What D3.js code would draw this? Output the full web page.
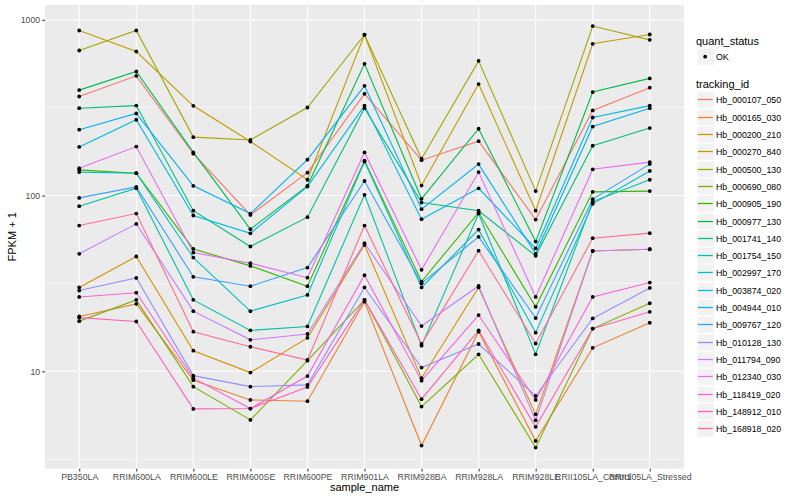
<!DOCTYPE html>
<html>
<head>
<meta charset="utf-8">
<script src="https://d3js.org/d3.v7.min.js"></script>
<style>
  body { margin: 0; background: #fff; }
  text { font-family: "Liberation Sans", Arial, sans-serif; }
</style>
</head>
<body>
<div id="chart"></div>
<script>
// sample names on the x axis
var samples = ["PB350LA", "RRIM600LA", "RRIM600LE", "RRIM600SE", "RRIM600PE", "RRIM901LA",
               "RRIM928BA", "RRIM928LA", "RRIM928LE", "RRII105LA_Control", "RRII105LA_Stressed"];

var trackingIds = ["Hb_000107_050", "Hb_000165_030", "Hb_000200_210", "Hb_000270_840", "Hb_000500_130",
                   "Hb_000690_080", "Hb_000905_190", "Hb_000977_130", "Hb_001741_140", "Hb_001754_150",
                   "Hb_002997_170", "Hb_003874_020", "Hb_004944_010", "Hb_009767_120", "Hb_010128_130",
                   "Hb_011794_090", "Hb_012340_030", "Hb_118419_020", "Hb_148912_010", "Hb_168918_020"];

// FPKM + 1, one value per sample
var hb_000107_050 = [366, 480, 173, 77.6, 135, 379, 159, 204, 73, 305, 411];
var hb_000165_030 = [20.5, 24.2, 8.9, 6.87, 6.76, 24.9, 3.78, 16.8, 4.02, 13.6, 18.9];
var hb_000200_210 = [30, 45, 13.1, 9.84, 15.5, 52.4, 9.14, 30, 5.69, 48.4, 49.5];
var hb_000270_840 = [869, 660, 324, 203, 123, 822, 114, 431, 82, 730, 825];
var hb_000500_130 = [669, 869, 215, 207, 317, 822, 162, 584, 106, 921, 769];
var hb_000690_080 = [19.3, 25.5, 8.18, 5.29, 11.5, 25.5, 6.3, 12.5, 3.68, 17.5, 24.4];
var hb_000905_190 = [140, 134, 49.7, 39.8, 30.5, 158, 32.4, 80, 23.3, 105, 106];
var hb_000977_130 = [398, 508, 176, 64.4, 113.6, 562, 95.8, 240, 54.7, 388, 464];
var hb_001741_140 = [314, 325, 82, 51.3, 75.3, 314, 91.2, 82, 45.4, 192, 242];
var hb_001754_150 = [87, 110, 25.5, 17.1, 18, 101, 14, 79, 12.5, 92.4, 123];
var hb_002997_170 = [136, 134, 44.4, 22, 27.2, 156, 30, 64, 16.6, 89.7, 138];
var hb_003874_020 = [189, 270, 77, 61, 112.5, 325, 73.4, 110, 50, 278, 325];
var hb_004944_010 = [237, 293, 113.6, 79, 160, 421, 83.7, 151, 46.6, 247, 314];
var hb_009767_120 = [97, 112, 34.5, 30.5, 38.9, 121, 31.7, 58.2, 20.1, 95.4, 151];
var hb_010128_130 = [28.8, 34, 9.45, 8.18, 8.37, 30, 10.5, 14.3, 7.24, 20, 29.8];
var hb_011794_090 = [46.6, 69, 22, 15.1, 16.3, 53.6, 18.1, 30.6, 5.26, 48.4, 49.5];
var hb_012340_030 = [143, 190, 47.4, 41.2, 34.1, 176, 37.8, 136, 26.5, 141, 155];
var hb_118419_020 = [26.5, 28, 9.14, 6.14, 9.4, 35.2, 8.85, 20.9, 6.87, 26.5, 32];
var hb_148912_010 = [20.2, 19.2, 6.11, 6.14, 8.15, 25.5, 6.94, 17.1, 4.83, 17.5, 21.8];
var hb_168918_020 = [67.5, 79, 16.8, 13.8, 11.6, 67.5, 14.3, 48.6, 14.4, 57.2, 61.1];

var seriesValues = [hb_000107_050, hb_000165_030, hb_000200_210, hb_000270_840, hb_000500_130,
                    hb_000690_080, hb_000905_190, hb_000977_130, hb_001741_140, hb_001754_150,
                    hb_002997_170, hb_003874_020, hb_004944_010, hb_009767_120, hb_010128_130,
                    hb_011794_090, hb_012340_030, hb_118419_020, hb_148912_010, hb_168918_020];

var yTicks = [10, 100, 1000];
var yMinor = [Math.pow(10, 0.5), Math.pow(10, 1.5), Math.pow(10, 2.5)];
var statusLabels = ["OK"];

// ggplot default hue palette for 20 levels
var palette = ["#F8766D", "#EA8331", "#D89000", "#C09B00", "#A3A500", "#7CAE00", "#39B600",
               "#00BB4E", "#00BF7D", "#00C1A3", "#00BFC4", "#00BAE0", "#00B0F6", "#35A2FF",
               "#9590FF", "#C77CFF", "#E76BF3", "#FA62DB", "#FF62BC", "#FF6C91"];

var width = 800,
    height = 500,
    panel = { left: 45, top: 5, right: 684, bottom: 468.7 };

var series = trackingIds.map(function(id, i) {
    return {
        id: id,
        points: samples.map(function(s, j) { return { sample: s, value: seriesValues[i][j] }; })
    };
});

var allValues = d3.merge(seriesValues);
var logMin = Math.log10(d3.min(allValues)),
    logMax = Math.log10(d3.max(allValues)),
    pad = (logMax - logMin) * 0.05;

var x = d3.scalePoint().domain(samples).range([panel.left, panel.right]).padding(0.6);
var y = d3.scaleLog()
    .domain([Math.pow(10, logMin - pad), Math.pow(10, logMax + pad)])
    .range([panel.bottom, panel.top]);
var color = d3.scaleOrdinal().domain(trackingIds).range(palette);

var svg = d3.select("#chart").append("svg")
    .attr("width", width).attr("height", height);

svg.append("rect")
    .attr("x", panel.left).attr("y", panel.top)
    .attr("width", panel.right - panel.left).attr("height", panel.bottom - panel.top)
    .attr("fill", "#EBEBEB");

var grid = svg.append("g");
grid.selectAll("line.minor").data(yMinor).enter().append("line")
    .attr("x1", panel.left).attr("x2", panel.right)
    .attr("y1", function(d) { return y(d); }).attr("y2", function(d) { return y(d); })
    .attr("stroke", "#fff").attr("stroke-width", 0.55);
grid.selectAll("line.major").data(yTicks).enter().append("line")
    .attr("x1", panel.left).attr("x2", panel.right)
    .attr("y1", function(d) { return y(d); }).attr("y2", function(d) { return y(d); })
    .attr("stroke", "#fff").attr("stroke-width", 1.1);
grid.selectAll("line.vert").data(samples).enter().append("line")
    .attr("x1", function(d) { return x(d); }).attr("x2", function(d) { return x(d); })
    .attr("y1", panel.top).attr("y2", panel.bottom)
    .attr("stroke", "#fff").attr("stroke-width", 1.1);

var line = d3.line()
    .x(function(d) { return x(d.sample); })
    .y(function(d) { return y(d.value); });

svg.append("g").selectAll("path").data(series).enter().append("path")
    .attr("d", function(d) { return line(d.points); })
    .attr("fill", "none")
    .attr("stroke", function(d) { return color(d.id); })
    .attr("stroke-width", 1.1);

svg.append("g").selectAll("g").data(series).enter().append("g")
    .selectAll("circle").data(function(d) { return d.points; }).enter().append("circle")
    .attr("cx", function(d) { return x(d.sample); })
    .attr("cy", function(d) { return y(d.value); })
    .attr("r", 1.9)
    .attr("fill", "#000");

// axes
var xAxis = svg.append("g")
    .attr("transform", "translate(0," + panel.bottom + ")")
    .call(d3.axisBottom(x).tickSizeOuter(0).tickSize(2.8).tickPadding(2));
var yAxis = svg.append("g")
    .attr("transform", "translate(" + panel.left + ",0)")
    .call(d3.axisLeft(y).tickValues(yTicks).tickFormat(d3.format("d")).tickSizeOuter(0).tickSize(2.8).tickPadding(2));

[xAxis, yAxis].forEach(function(a) {
    a.select(".domain").remove();
    a.selectAll(".tick line").attr("stroke", "#333333").attr("stroke-width", 1.05);
    a.selectAll(".tick text").attr("fill", "#4D4D4D")
        .style("font-family", "'Liberation Sans', Arial, sans-serif").style("font-size", "8.8px");
});

svg.append("text")
    .attr("x", (panel.left + panel.right) / 2).attr("y", 491)
    .attr("text-anchor", "middle").attr("font-size", "11px").attr("fill", "#000")
    .text("sample_name");

svg.append("text")
    .attr("transform", "translate(16," + (panel.top + panel.bottom) / 2 + ") rotate(-90)")
    .attr("text-anchor", "middle").attr("font-size", "11px").attr("fill", "#000")
    .text("FPKM + 1");

// legends
var keyX = 697, keySize = 17.3, labelX = 716;
var legend = svg.append("g");

legend.append("text").attr("x", 696).attr("y", 44.5)
    .attr("font-size", "11px").attr("fill", "#000").text("quant_status");

var statusKeys = legend.selectAll("g.status").data(statusLabels).enter().append("g")
    .attr("transform", function(d, i) { return "translate(0," + (48 + i * keySize) + ")"; });
statusKeys.append("rect").attr("x", keyX).attr("width", keySize).attr("height", keySize)
    .attr("fill", "#F2F2F2").attr("stroke", "#fff");
statusKeys.append("circle").attr("cx", keyX + keySize / 2 - 0.5).attr("cy", keySize / 2)
    .attr("r", 1.9).attr("fill", "#000");
statusKeys.append("text").attr("x", labelX).attr("y", keySize / 2 + 3.2)
    .attr("font-size", "8.8px").attr("fill", "#000").text(function(d) { return d; });

legend.append("text").attr("x", 696).attr("y", 88)
    .attr("font-size", "11px").attr("fill", "#000").text("tracking_id");

var items = legend.selectAll("g.item").data(trackingIds).enter().append("g")
    .attr("transform", function(d, i) { return "translate(0," + Math.round(91.4 + i * keySize) + ")"; });
items.append("rect").attr("x", keyX).attr("width", keySize).attr("height", keySize)
    .attr("fill", "#F2F2F2").attr("stroke", "#fff");
items.append("line")
    .attr("x1", keyX + 1).attr("x2", keyX + keySize - 1.5)
    .attr("y1", 8.5).attr("y2", 8.5)
    .attr("stroke", function(d) { return color(d); }).attr("stroke-width", 1.3);
items.append("text").attr("x", labelX).attr("y", keySize / 2 + 3.2)
    .attr("font-size", "8.8px").attr("fill", "#000").text(function(d) { return d; });
</script>
</body>
</html>
